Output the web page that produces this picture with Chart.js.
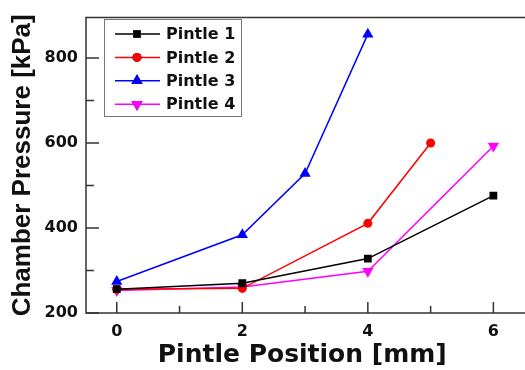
<!DOCTYPE html>
<html>
<head>
<meta charset="utf-8">
<script src="https://cdn.jsdelivr.net/npm/chart.js@4.4.1/dist/chart.umd.min.js"></script>
<style>
  html, body { margin: 0; padding: 0; background: #fff; }
  #wrap { width: 525px; height: 370px; }
</style>
</head>
<body>
<div id="wrap"><canvas id="pressureChart" width="525" height="370"></canvas></div>
<script>
// values
const seriesNames = ["Pintle 1", "Pintle 2", "Pintle 3", "Pintle 4"];
const pintle1X = [0, 2, 4, 6];
const pintle1Y = [256, 270, 328, 476];
const pintle2X = [0, 2, 4, 5];
const pintle2Y = [256, 258, 411, 600];
const pintle3X = [0, 2, 3, 4];
const pintle3Y = [274, 384, 528, 856];
const pintle4X = [0, 2, 4, 6];
const pintle4Y = [253, 261, 298, 593];

const xTicks = [0, 2, 4, 6];
const xMinorTicks = [1, 3, 5];
const yTicks = [200, 400, 600, 800];
const yMinorTicks = [300, 500, 700];

const FONT = "'DejaVu Sans', sans-serif";

function toPoints(xs, ys) {
  return xs.map((x, i) => ({ x: x, y: ys[i] }));
}

const styles = [
  { color: "#000000", pointStyle: "rect", radius: 5.5, rotation: 0 },
  { color: "#ff0000", pointStyle: "circle", radius: 4.5, rotation: 0 },
  { color: "#0000ff", pointStyle: "triangle", radius: 6.5, rotation: 0 },
  { color: "#ff00ff", pointStyle: "triangle", radius: 6.5, rotation: 180 }
];

const allData = [
  toPoints(pintle1X, pintle1Y),
  toPoints(pintle2X, pintle2Y),
  toPoints(pintle3X, pintle3Y),
  toPoints(pintle4X, pintle4Y)
];

const datasets = seriesNames.map((name, i) => ({
  label: name,
  data: allData[i],
  borderColor: styles[i].color,
  backgroundColor: styles[i].color,
  borderWidth: 1.5,
  pointStyle: styles[i].pointStyle,
  pointRadius: styles[i].radius,
  pointRotation: styles[i].rotation,
  pointBorderWidth: 0,
  showLine: true,
  tension: 0
}));

// frame, inward ticks and boxed legend
const framePlugin = {
  id: "frame",
  afterDraw(chart) {
    const ctx = chart.ctx;
    const area = chart.chartArea;
    const xs = chart.scales.x;
    const ys = chart.scales.y;
    const edge = chart.width + 2;
    ctx.save();
    ctx.strokeStyle = "#333333";
    ctx.lineWidth = 1.5;
    ctx.beginPath();
    ctx.moveTo(edge, area.top);
    ctx.lineTo(area.left, area.top);
    ctx.lineTo(area.left, area.bottom);
    ctx.lineTo(edge, area.bottom);
    ctx.stroke();

    ctx.beginPath();
    yTicks.forEach((v) => {
      const y = ys.getPixelForValue(v);
      ctx.moveTo(area.left, y);
      ctx.lineTo(area.left + 13, y);
    });
    yMinorTicks.forEach((v) => {
      const y = ys.getPixelForValue(v);
      ctx.moveTo(area.left, y);
      ctx.lineTo(area.left + 8, y);
    });
    xTicks.forEach((v) => {
      const x = xs.getPixelForValue(v);
      ctx.moveTo(x, area.bottom);
      ctx.lineTo(x, area.bottom - 11);
    });
    xMinorTicks.forEach((v) => {
      const x = xs.getPixelForValue(v);
      ctx.moveTo(x, area.bottom);
      ctx.lineTo(x, area.bottom - 7);
    });
    ctx.stroke();

    // legend
    const box = { left: 104, top: 19, width: 137, height: 97 };
    ctx.fillStyle = "#ffffff";
    ctx.fillRect(box.left, box.top, box.width, box.height);
    ctx.strokeStyle = "#777777";
    ctx.lineWidth = 1;
    ctx.strokeRect(box.left + 0.5, box.top + 0.5, box.width, box.height);
    ctx.font = "bold 16px " + FONT;
    ctx.textBaseline = "middle";
    ctx.textAlign = "left";
    chart.data.datasets.forEach((ds, i) => {
      const y = box.top + 15 + i * 23.4;
      ctx.strokeStyle = ds.borderColor;
      ctx.lineWidth = 1.5;
      ctx.beginPath();
      ctx.moveTo(115, y);
      ctx.lineTo(160, y);
      ctx.stroke();
      Chart.helpers.drawPoint(ctx, {
        pointStyle: ds.pointStyle,
        radius: ds.pointRadius,
        rotation: ds.pointRotation,
        borderWidth: 0
      }, 137, y);
      ctx.fillStyle = ds.backgroundColor;
      ctx.fill();
      ctx.fillStyle = "#111111";
      ctx.fillText(ds.label, 166, y + 1);
    });
    ctx.restore();
  }
};

new Chart(document.getElementById("pressureChart"), {
  type: "scatter",
  data: { datasets: datasets },
  plugins: [framePlugin],
  options: {
    responsive: false,
    animation: false,
    layout: { padding: { top: 12, right: 0, left: 0, bottom: 0 } },
    plugins: {
      legend: { display: false },
      tooltip: { enabled: false }
    },
    scales: {
      x: {
        type: "linear",
        min: -0.49,
        max: 6.4,
        afterFit(scale) { scale.height = 57; },
        afterBuildTicks(scale) { scale.ticks = xTicks.map((v) => ({ value: v })); },
        grid: { display: false, drawTicks: false },
        border: { display: false },
        ticks: {
          padding: 9,
          color: "#111111",
          font: { family: FONT, size: 16, weight: "bold" }
        },
        title: {
          display: true,
          text: "Pintle Position [mm]",
          color: "#111111",
          padding: 0,
          font: { family: FONT, size: 25, weight: "bold" }
        }
      },
      y: {
        type: "linear",
        min: 200,
        max: 895,
        afterFit(scale) { scale.width = 86; },
        afterBuildTicks(scale) { scale.ticks = yTicks.map((v) => ({ value: v })); },
        grid: { display: false, drawTicks: false },
        border: { display: false },
        ticks: {
          padding: 8,
          color: "#111111",
          font: { family: FONT, size: 16, weight: "bold" }
        },
        title: {
          display: true,
          text: "Chamber Pressure [kPa]",
          color: "#111111",
          padding: { top: 7, bottom: 0 },
          font: { family: "'Liberation Sans', Arial, sans-serif", size: 26, weight: "bold" }
        }
      }
    }
  }
});
</script>
</body>
</html>
